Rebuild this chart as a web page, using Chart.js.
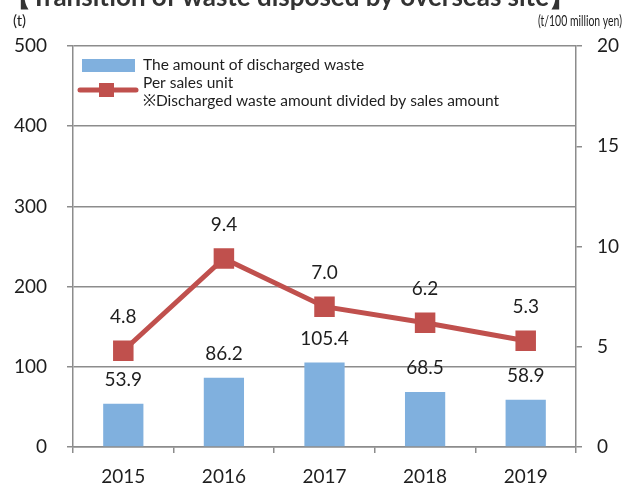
<!DOCTYPE html>
<html>
<head>
<meta charset="utf-8">
<script src="https://cdn.jsdelivr.net/npm/chart.js@4.4.1/dist/chart.umd.min.js"></script>
<style>
  html, body { margin: 0; padding: 0; background: #fff; }
  #wrap { width: 628px; height: 486px; position: relative; }
</style>
</head>
<body>
<div id="wrap"><canvas id="myChart" width="628" height="486"></canvas></div>
<script>
// data
const years = ['2015', '2016', '2017', '2018', '2019'];
const wasteAmount = [53.9, 86.2, 105.4, 68.5, 58.9];   // (t)
const perSalesUnit = [4.8, 9.4, 7.0, 6.2, 5.3];        // (t/100 million yen)
const leftAxis = { min: 0, max: 500, step: 100 };
const rightAxis = { min: 0, max: 20, step: 5 };

const titleText = '【Transition of waste disposed by overseas site】';
const barLabel = 'The amount of discharged waste';
const lineLabel = 'Per sales unit';
const lineNote = '※Discharged waste amount divided by sales amount';

const FONT = 'Lato, "Noto Sans", sans-serif';
const gridColor = '#8c8c8c';
const barColor = '#80b0de';
const lineColor = '#c0504d';
const textColor = '#1e1e1e';

// value labels above bars and points
const valueLabels = {
    id: 'valueLabels',
    afterDatasetsDraw(chart) {
        const ctx = chart.ctx;
        ctx.save();
        ctx.font = '19px ' + FONT;
        ctx.fillStyle = textColor;
        ctx.textAlign = 'center';
        ctx.textBaseline = 'middle';
        chart.data.datasets.forEach((ds, i) => {
            const meta = chart.getDatasetMeta(i);
            meta.data.forEach((el, j) => {
                const off = ds.type === 'line' ? 34 : 24;
                ctx.fillText(ds.data[j].toFixed(1), el.x, el.y - off);
            });
        });
        ctx.restore();
    }
};

// title (clipped at the top), unit labels and the legend box
const extras = {
    id: 'extras',
    afterDraw(chart) {
        const ctx = chart.ctx;
        ctx.save();
        ctx.fillStyle = '#333';

        // title is mostly cut off by the top edge, as in the reference
        ctx.font = 'bold 27px ' + FONT;
        const tw = ctx.measureText(titleText).width;
        ctx.translate(290, 5.5);
        ctx.scale(570 / tw, 1);
        ctx.textAlign = 'center';
        ctx.textBaseline = 'alphabetic';
        ctx.fillText(titleText, 0, 0);
        ctx.setTransform(1, 0, 0, 1, 0, 0);

        ctx.fillStyle = textColor;
        ctx.font = '15px ' + FONT;
        ctx.textAlign = 'left';
        ctx.textBaseline = 'middle';
        ctx.fillText('(t)', 13, 21);

        // narrow unit label on the right
        const u = '(t/100 million yen)';
        ctx.font = '15px ' + FONT;
        const w = ctx.measureText(u).width;
        ctx.translate(622, 21);
        ctx.scale(84 / w, 1);
        ctx.textAlign = 'right';
        ctx.fillText(u, 0, 0);
        ctx.setTransform(1, 0, 0, 1, 0, 0);

        // legend
        ctx.fillStyle = barColor;
        ctx.fillRect(82, 59, 53, 13);
        ctx.strokeStyle = lineColor;
        ctx.lineWidth = 5;
        ctx.lineCap = 'round';
        ctx.beginPath();
        ctx.moveTo(80, 90);
        ctx.lineTo(136, 90);
        ctx.stroke();
        ctx.fillStyle = lineColor;
        ctx.fillRect(99, 83, 15, 14);

        ctx.fillStyle = textColor;
        ctx.font = '15.5px ' + FONT;
        ctx.textAlign = 'left';
        ctx.textBaseline = 'middle';
        ctx.fillText(barLabel, 143, 65);
        ctx.fillText(lineLabel, 143, 83);
        ctx.fillText(lineNote, 143, 101);
        ctx.restore();
    }
};

const tickFont = { family: FONT, size: 19 };

const ctx = document.getElementById('myChart');
const chart = new Chart(ctx, {
    type: 'bar',
    data: {
        labels: years,
        datasets: [{
            type: 'line',
            label: lineLabel,
            data: perSalesUnit,
            yAxisID: 'y1',
            borderColor: lineColor,
            borderWidth: 5,
            pointStyle: 'rect',
            pointRadius: 14.5,
            pointBackgroundColor: lineColor,
            pointBorderWidth: 0,
            tension: 0,
            order: 0
        }, {
            type: 'bar',
            label: barLabel,
            data: wasteAmount,
            yAxisID: 'y',
            backgroundColor: barColor,
            barPercentage: 0.4,
            categoryPercentage: 1,
            order: 1
        }]
    },
    options: {
        responsive: false,
        animation: false,
        layout: { padding: { top: 46, left: 0, right: 0, bottom: 0 } },
        plugins: {
            legend: { display: false },
            tooltip: { enabled: false }
        },
        scales: {
            x: {
                offset: true,
                grid: { display: true, offset: true, drawOnChartArea: false, tickLength: 6, color: gridColor, lineWidth: 1.5 },
                border: { color: gridColor, width: 1.5 },
                ticks: { font: tickFont, color: textColor, padding: 12 },
                afterFit(scale) { scale.height = 39; }
            },
            y: {
                position: 'left',
                min: leftAxis.min,
                max: leftAxis.max,
                ticks: { stepSize: leftAxis.step, font: tickFont, color: textColor, padding: 20 },
                grid: { color: gridColor, lineWidth: 1.5, tickLength: 6 },
                border: { color: gridColor, width: 1.5 },
                afterFit(scale) { scale.width = 73; }
            },
            y1: {
                position: 'right',
                min: rightAxis.min,
                max: rightAxis.max,
                ticks: { stepSize: rightAxis.step, font: tickFont, color: textColor, padding: 15 },
                grid: { drawOnChartArea: false, color: gridColor, lineWidth: 1.5, tickLength: 6 },
                border: { color: gridColor, width: 1.5 },
                afterFit(scale) { scale.width = 52; }
            }
        }
    },
    plugins: [valueLabels, extras]
});
</script>
</body>
</html>
